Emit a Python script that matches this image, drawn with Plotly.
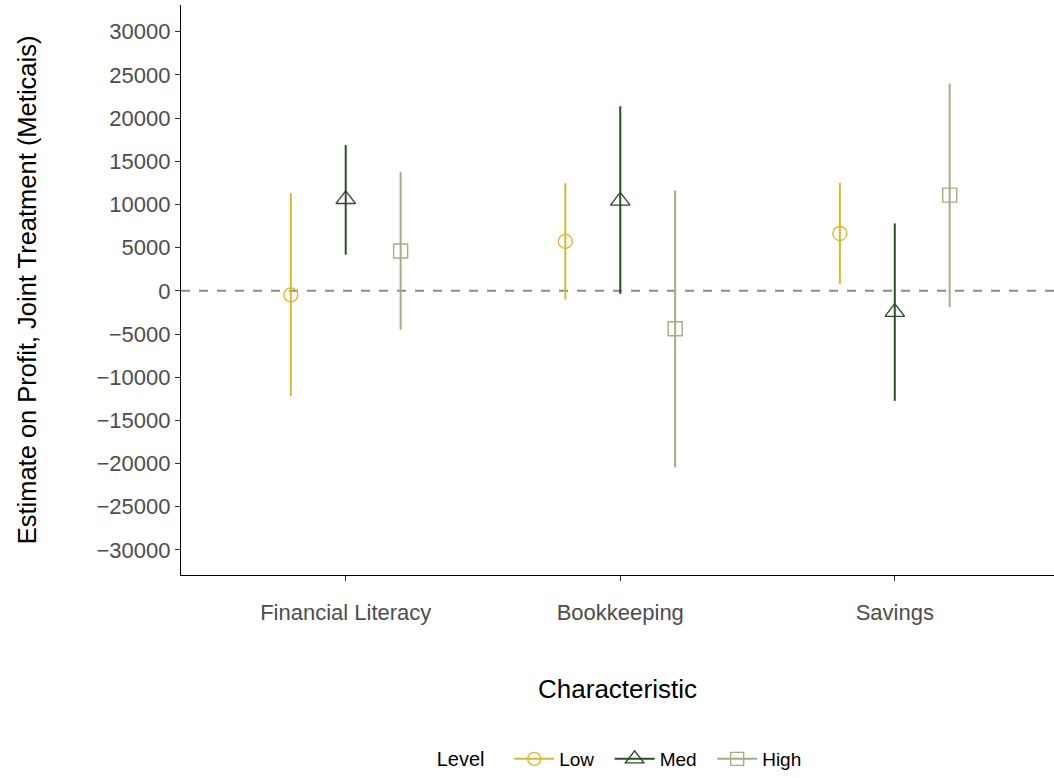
import plotly.graph_objects as go

# Estimates of joint treatment on profit by characteristic and level
characteristics = ["Financial Literacy", "Bookkeeping", "Savings"]
levels = ["Low", "Med", "High"]

estimate_low = [-460, 5730, 6650]
upper_low = [11300, 12460, 12500]
lower_low = [-12200, -1000, 800]

estimate_med = [10600, 10420, -2460]
upper_med = [16880, 21380, 7810]
lower_med = [4190, -350, -12730]

estimate_high = [4610, -4380, 11080]
upper_high = [13770, 11650, 24000]
lower_high = [-4500, -20460, -1880]

y_ticks = list(range(-30000, 30001, 5000))

series = {
    "Low": (estimate_low, upper_low, lower_low),
    "Med": (estimate_med, upper_med, lower_med),
    "High": (estimate_high, upper_high, lower_high),
}

colors = {"Low": "#D8B92E", "Med": "#2C4D28", "High": "#A8AC86"}
symbols = {"Low": "circle-open", "Med": "triangle-up-open", "High": "square-open"}
sizes = {"Low": 14, "Med": 17, "High": 14}
dodge = {"Low": -0.2, "Med": 0.0, "High": 0.2}

fig = go.Figure()

# Reference line at zero
fig.add_shape(type="line", xref="paper", x0=0, x1=1, yref="y", y0=0, y1=0,
              line=dict(color="#8C8C8C", width=2, dash="dash"), layer="below")

for lvl in levels:
    est, up, lo = series[lvl]
    xs = [i + 1 + dodge[lvl] for i in range(len(characteristics))]
    fig.add_trace(go.Scatter(
        x=xs, y=est, mode="markers", showlegend=False,
        marker=dict(symbol=symbols[lvl], size=sizes[lvl], color=colors[lvl],
                    line=dict(width=1.4, color=colors[lvl])),
        error_y=dict(type="data", symmetric=False,
                     array=[u - e for u, e in zip(up, est)],
                     arrayminus=[e - l for e, l in zip(est, lo)],
                     width=0, thickness=2, color=colors[lvl]),
    ))
    # Legend key: line through marker
    fig.add_trace(go.Scatter(
        x=[None], y=[None], mode="lines+markers", name=lvl + "  ",
        line=dict(color=colors[lvl], width=2),
        marker=dict(symbol=symbols[lvl], size=sizes[lvl] - 1, color=colors[lvl],
                    line=dict(width=1.4, color=colors[lvl])),
    ))

fig.update_layout(
    width=1054, height=778,
    margin=dict(l=181, r=0, t=5, b=201),
    plot_bgcolor="white", paper_bgcolor="white",
    font=dict(family="Liberation Sans, Arial, sans-serif", color="black"),
    showlegend=True,
    legend=dict(orientation="h", x=0.51, xanchor="center", y=-0.323, yanchor="middle",
                title=dict(text="Level   ", font=dict(size=20, color="black")),
                font=dict(size=19, color="black"), itemwidth=40,
                bgcolor="rgba(0,0,0,0)"),
    xaxis=dict(
        range=[0.4, 3.58], tickmode="array", tickvals=[1, 2, 3], ticktext=characteristics,
        showline=True, linecolor="black", linewidth=1.3, showgrid=False, zeroline=False,
        ticks="outside", ticklen=5, tickcolor="#333333", tickwidth=1.3,
        tickfont=dict(size=22, color="#4D4D4D"), ticklabelstandoff=12,
        title=dict(text="Characteristic", font=dict(size=26, color="black"), standoff=56),
    ),
    yaxis=dict(
        range=[-32900, 33100], tickmode="array", tickvals=y_ticks,
        ticktext=[str(v).replace("-", "\u2212") for v in y_ticks],
        showline=True, linecolor="black", linewidth=1.3, showgrid=False, zeroline=False,
        ticks="outside", ticklen=5, tickcolor="#333333", tickwidth=1.3,
        tickfont=dict(size=22, color="#4D4D4D"),
        title=dict(text="Estimate on Profit, Joint Treatment (Meticais)",
                   font=dict(size=25.5, color="black"), standoff=52),
    ),
)

fig.write_html("out.html")
